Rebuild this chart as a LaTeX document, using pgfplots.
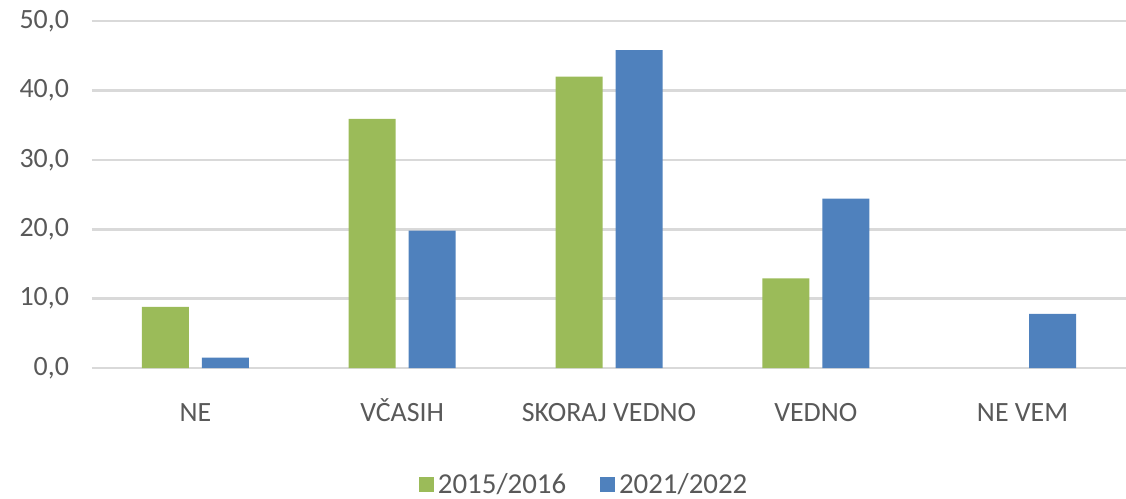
\documentclass[border=0pt]{standalone}
\usepackage{pgfplots}
\pgfplotsset{compat=1.18}
\usepackage{fontspec}
\setmainfont{Carlito}
\definecolor{gr}{HTML}{9BBB59}
\definecolor{bl}{HTML}{4F81BD}
\definecolor{txt}{HTML}{595959}
\definecolor{gridc}{HTML}{D9D9D9}
\begin{document}
\begin{tikzpicture}
\begin{axis}[
    scale only axis,
    width=517bp, height=173.5bp,
    ybar=6.5bp, bar width=23.5bp,
    xmin=-0.5, xmax=4.5, ymin=0, ymax=50,
    xtick={0,1,2,3,4},
    xticklabels={NE, VČASIH, SKORAJ VEDNO, VEDNO, NE VEM},
    ytick={0,10,20,30,40,50},
    axis line style={draw=none},
    major tick length=0pt,
    ymajorgrids,
    grid style={gridc, line width=1.3bp},
    tick label style={font=\fontsize{14}{16}\selectfont, text=txt},
    xticklabel style={anchor=base, yshift=-26.5bp},
    yticklabel style={xshift=-8bp,
      /pgf/number format/fixed,
      /pgf/number format/fixed zerofill,
      /pgf/number format/precision=1,
      /pgf/number format/use comma,
      /pgf/number format/assume math mode=true},
    legend columns=2,
    legend style={at={(0.477,-0.337)}, anchor=center, draw=none,
      font=\fontsize{14.5}{16}\selectfont, text=txt,
      /tikz/every even column/.append style={column sep=15bp}},
    legend image code/.code={\fill[#1] (0bp,-3.6bp) rectangle (7.4bp,3.8bp);},
  ]
\addplot[fill=gr, draw=none] coordinates {(0,8.8) (1,35.9) (2,42.0) (3,12.9)};
\addplot[fill=bl, draw=none] coordinates {(0,1.5) (1,19.8) (2,45.8) (3,24.4) (4,7.8)};
\legend{2015/2016, 2021/2022}
\end{axis}
\pgfresetboundingbox
\path (-46bp,-65.5bp) rectangle (517bp,184bp);
\end{tikzpicture}
\end{document}
